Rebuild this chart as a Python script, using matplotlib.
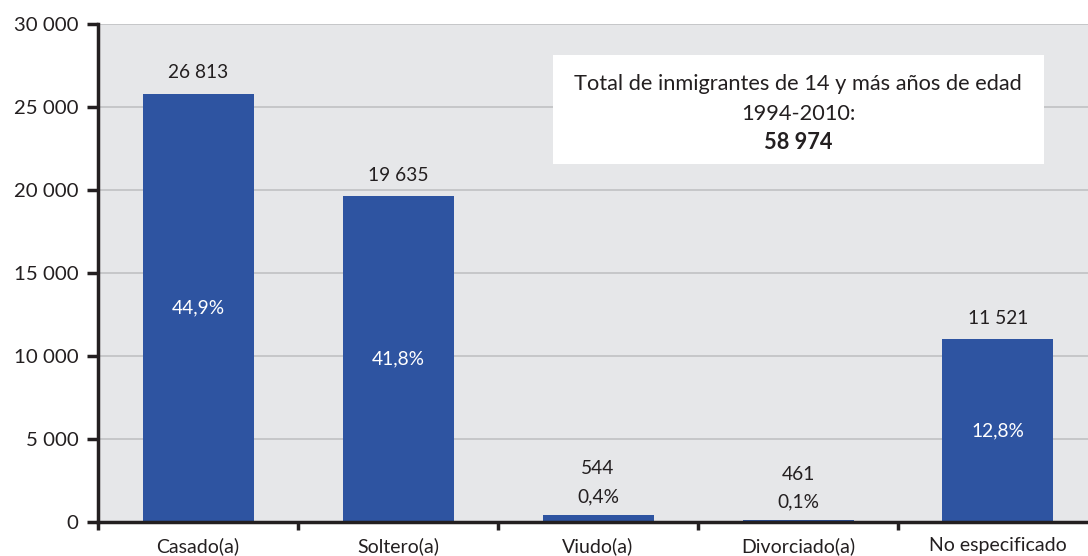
import matplotlib.pyplot as plt
from matplotlib.patches import Rectangle
import numpy as np

plt.rcParams['font.family'] = ['Lato', 'DejaVu Sans']

# data
categories = ['Casado(a)', 'Soltero(a)', 'Viudo(a)', 'Divorciado(a)', 'No especificado']
counts = [26813, 19635, 544, 461, 11521]          # numbers printed on the chart
bar_heights = [25800, 19640, 450, 130, 11030]     # bar heights as drawn
percents = ['44,9%', '41,8%', '0,4%', '0,1%', '12,8%']
total = 58974
box_lines = ['Total de inmigrantes de 14 y más años de edad', '1994-2010:']

bar_color = '#2e54a1'
bg_color = '#e6e7e9'
text_color = '#231f20'


def fmt(v):
    return f'{v:,}'.replace(',', ' ')


fig = plt.figure(figsize=(10.88, 5.56), dpi=100)
ax = fig.add_axes([98 / 1088, 34 / 556, 1000 / 1088, 498 / 556])
ax.set_facecolor(bg_color)

x = np.arange(len(categories))
ax.bar(x, bar_heights, width=0.555, color=bar_color, zorder=3)

ax.set_xlim(-0.5, 4.5)
ax.set_ylim(0, 30000)
ax.set_yticks(np.arange(0, 30001, 5000))
ax.set_yticklabels([fmt(v) for v in range(0, 30001, 5000)], fontsize=14.7, color=text_color)
ax.yaxis.grid(True, color='#c3c4c6', linewidth=1.3, zorder=0)
ax.tick_params(axis='y', direction='out', length=8, width=2.5, color=text_color, pad=6)

# boundaries get the ticks, centers get the names
ax.set_xticks(np.arange(-0.5, 4.6, 1.0))
ax.set_xticklabels([])
ax.tick_params(axis='x', which='major', direction='out', length=6, width=2.5, color=text_color)
ax.set_xticks(x, minor=True)
ax.set_xticklabels(categories, minor=True, fontsize=14, color=text_color)
ax.tick_params(axis='x', which='minor', length=0, pad=11)

for s in ['top', 'right']:
    ax.spines[s].set_visible(False)
for s in ['left', 'bottom']:
    ax.spines[s].set_linewidth(2.5)
    ax.spines[s].set_color(text_color)
    ax.spines[s].set_zorder(4)

lbl_size = 13.8
for i in range(len(categories)):
    h = bar_heights[i]
    if h > 5000:
        ax.annotate(fmt(counts[i]), (x[i], h), xytext=(0, 15), textcoords='offset points',
                    ha='center', va='center', fontsize=lbl_size, color=text_color)
        ax.text(x[i], h / 2, percents[i], ha='center', va='center', fontsize=lbl_size,
                color='white', zorder=5)
    else:
        ax.annotate(fmt(counts[i]), (x[i], h), xytext=(0, 33), textcoords='offset points',
                    ha='center', va='center', fontsize=lbl_size, color=text_color)
        ax.annotate(percents[i], (x[i], h), xytext=(0, 13), textcoords='offset points',
                    ha='center', va='center', fontsize=lbl_size, color=text_color)

# total box
ax.add_patch(Rectangle((0.455, 0.719), 0.491, 0.219, transform=ax.transAxes,
                       facecolor='white', edgecolor='none', zorder=5))
ax.text(0.70, 0.880, box_lines[0], transform=ax.transAxes, ha='center', va='center',
        fontsize=15.7, color=text_color, zorder=6)
ax.text(0.70, 0.820, box_lines[1], transform=ax.transAxes, ha='center', va='center',
        fontsize=15.7, color=text_color, zorder=6)
ax.text(0.70, 0.762, fmt(total), transform=ax.transAxes, ha='center', va='center',
        fontsize=15.7, fontweight='bold', color=text_color, zorder=6)

fig.savefig('out.png', dpi=100, facecolor='white')
